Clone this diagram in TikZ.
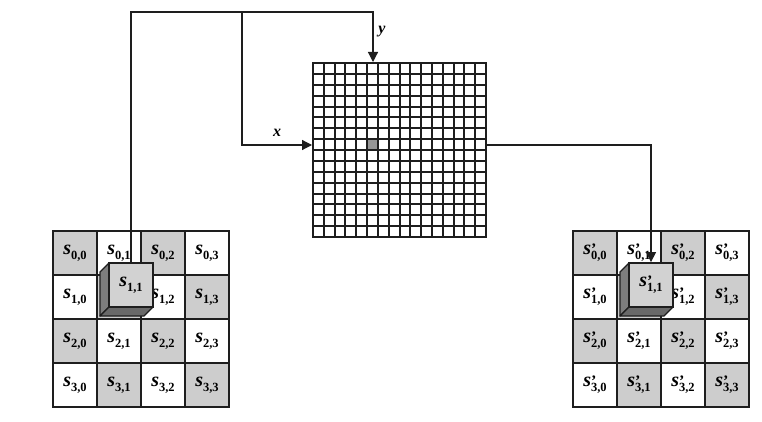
\documentclass[tikz,border=0pt]{standalone}
\usepackage{fontspec}
\setmainfont{Liberation Serif}
\usetikzlibrary{arrows.meta}
\definecolor{gfill}{RGB}{205,205,205}
\definecolor{cfill}{RGB}{210,210,210}
\definecolor{sidel}{RGB}{125,125,125}
\definecolor{sideb}{RGB}{105,105,105}
\definecolor{hitgray}{RGB}{150,150,150}
\definecolor{ink}{RGB}{30,30,30}
\newcommand\sv[1]{{\fontsize{20}{22}\selectfont\bfseries\itshape s}\raisebox{-5pt}{\fontsize{12.5}{13}\selectfont\bfseries #1}}
\newcommand\svp[1]{{\fontsize{20}{22}\selectfont\bfseries\itshape s}\makebox[0pt][l]{\fontsize{16}{16}\selectfont\bfseries ’}\raisebox{-5pt}{\fontsize{12.5}{13}\selectfont\bfseries #1}}
\tikzset{
  cell/.style={draw=ink, line width=1.8pt, minimum width=44pt, minimum height=44pt, inner sep=0pt},
  cubefront/.style={cell, fill=cfill},
  sidel/.style={fill=sidel, draw=ink, line width=1.3pt, line join=round},
  sideb/.style={fill=sideb, draw=ink, line width=1.3pt, line join=round},
  conn/.style={draw=ink, line width=1.2pt},
  arr/.style={conn, -{Triangle[length=10pt,width=10pt]}},
  axlbl/.style={font=\fontsize{16}{17}\selectfont\bfseries\itshape, inner sep=0pt},
  gline/.style={draw=ink, line width=1.6pt},
  gframe/.style={draw=ink, line width=2pt, minimum width=173pt, minimum height=174pt, inner sep=0pt},
}
\begin{document}
\begin{tikzpicture}[x=1pt,y=-1pt]
\useasboundingbox[fill=white] (0,0) rectangle (762,422);
% left grid
\foreach \i in {0,...,3}{\foreach \j in {0,...,3}{
  \pgfmathtruncatemacro\odd{mod(\i+\j,2)}
  \ifnum\odd=0 \def\cf{gfill}\else\def\cf{white}\fi
  \ifnum\i\j=11
    \node[cell, fill=\cf] (L\i\j) at ({75+44*\j},{253+44*\i}) {};
  \else
    \node[cell, fill=\cf] (L\i\j) at ({75+44*\j},{253+44*\i}) {\sv{\i,\j}};
  \fi
}}
% left cube
\draw[sidel] (109,263) -- (100,272) -- (100,316) -- (109,307) -- cycle;
\draw[sideb] (109,307) -- (100,316) -- (144,316) -- (153,307) -- cycle;
\node[cubefront] (Lc) at (131,285) {\sv{1,1}};
% right grid
\foreach \i in {0,...,3}{\foreach \j in {0,...,3}{
  \pgfmathtruncatemacro\odd{mod(\i+\j,2)}
  \ifnum\odd=0 \def\cf{gfill}\else\def\cf{white}\fi
  \ifnum\i\j=11
    \node[cell, fill=\cf] (R\i\j) at ({595+44*\j},{253+44*\i}) {};
  \else
    \node[cell, fill=\cf] (R\i\j) at ({595+44*\j},{253+44*\i}) {\svp{\i,\j}};
  \fi
}}
% right cube
\draw[sidel] (629,263) -- (620,272) -- (620,316) -- (629,307) -- cycle;
\draw[sideb] (629,307) -- (620,316) -- (664,316) -- (673,307) -- cycle;
\node[cubefront] (Rc) at (651,285) {\svp{1,1}};
% central grid
\node[gframe] (G) at (399.5,150) {};
\node[fill=hitgray, minimum width=11pt, minimum height=11pt, inner sep=0pt] (H) at (373,145) {};
\foreach \k in {1,...,15}{
  \pgfmathtruncatemacro\gx{round(313+\k*10.8125)}
  \pgfmathtruncatemacro\gy{round(63+\k*10.875)}
  \draw[gline] (\gx,63) -- (\gx,237);
  \draw[gline] (313,\gy) -- (486,\gy);
}
\node[gframe] at (G.center) {};
\coordinate (yin) at (H.center |- G.north);
\coordinate (xin) at (G.west |- H.center);
\coordinate (xout) at (G.east |- H.center);
\coordinate (tr) at (yin |- 0,12);
\coordinate (br) at (242,12);
% connectors
\draw[arr] (Lc.north) |- (tr) -- (yin);
\draw[arr] (br) |- (xin);
\draw[arr] (xout) -| (Rc.north);
\node[axlbl] (lx) at (277,133) {x};
\node[axlbl] (ly) at (382,32) {y};
\end{tikzpicture}
\end{document}
